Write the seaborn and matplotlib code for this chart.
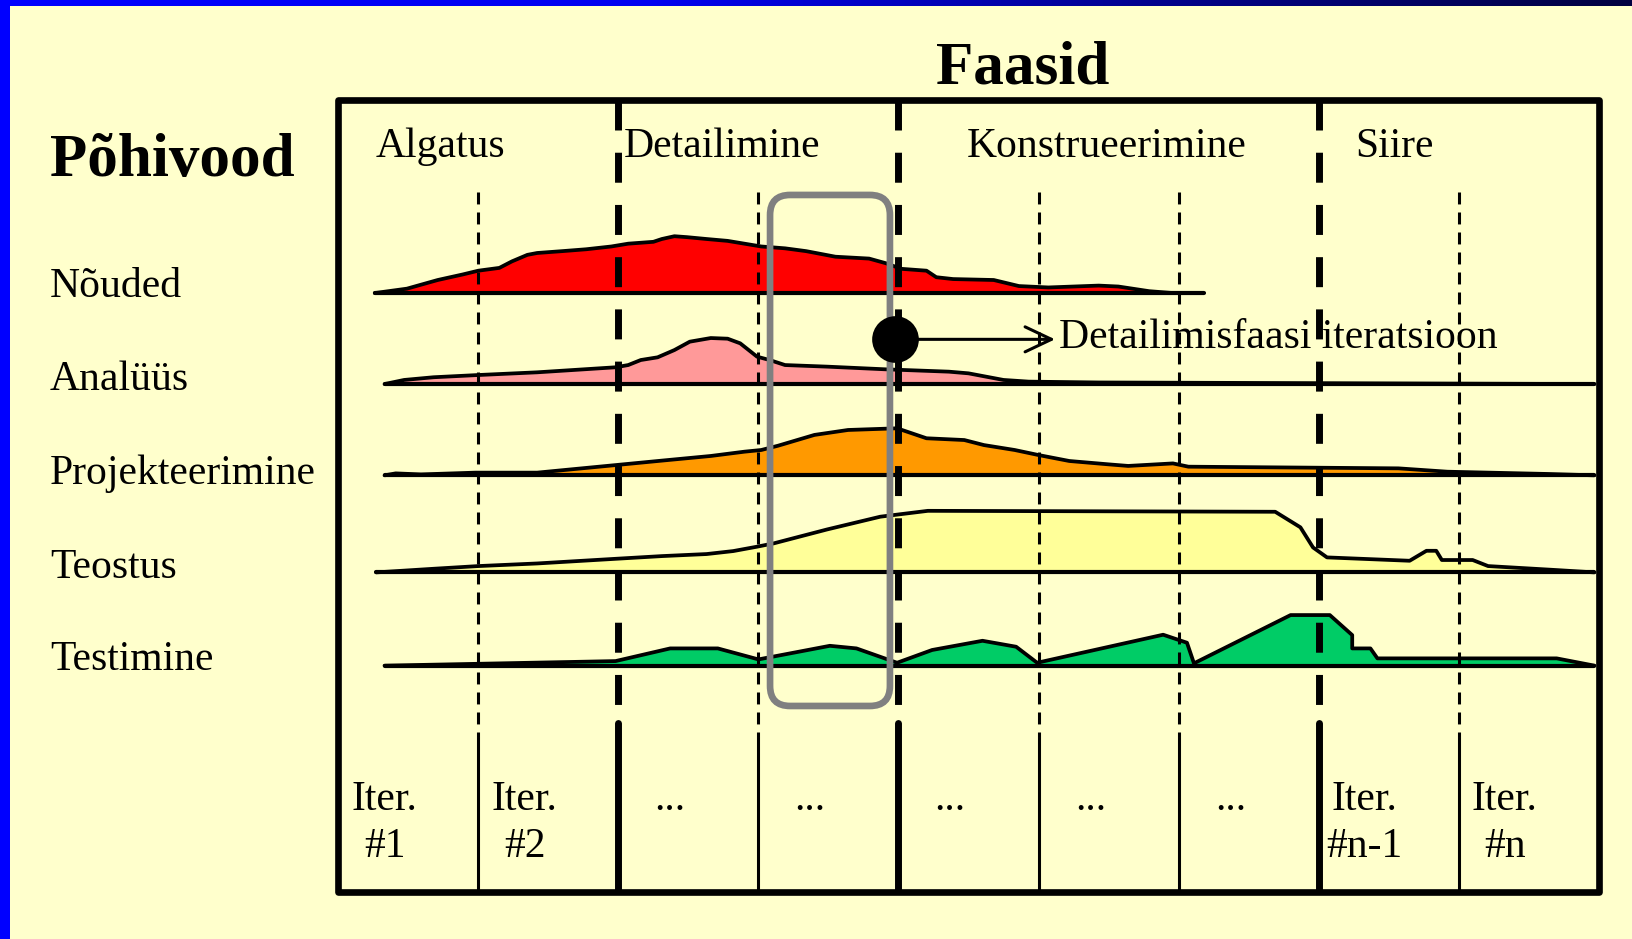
import matplotlib
matplotlib.use("Agg")
import matplotlib.pyplot as plt
import seaborn as sns
import numpy as np
from matplotlib.patches import FancyBboxPatch, Rectangle
from matplotlib.colors import LinearSegmentedColormap

# ---------------------------------------------------------------------------
# data: time in iteration units (box = 0..9), effort in % of one lane height
# ---------------------------------------------------------------------------
phases = ["Algatus", "Detailimine", "Konstrueerimine", "Siire"]
phase_pos = [0.726, 2.742, 5.485, 7.543]
phase_bounds = [2, 4, 7]
iter_bounds = [1, 3, 5, 6, 8]
iter_top = ["Iter.", "Iter.", "...", "...", "...", "...", "...", "Iter.", "Iter."]
iter_bottom = ["#1", "#2", "", "", "", "", "", "#n-1", "#n"]

disciplines = ["Nõuded", "Analüüs", "Projekteerimine", "Teostus", "Testimine"]
lane_base = [6.430, 5.453, 4.473, 3.431, 2.430]
base_start = [0.26, 0.33, 0.33, 0.27, 0.33]
base_end = [6.18, 8.97, 8.97, 8.97, 8.97]
colors = ["#FF0000", "#FF9999", "#FF9900", "#FFFF99", "#00CC66"]

noud_t = [0.26, 0.49, 0.71, 0.89, 1.00, 1.15, 1.24, 1.35, 1.42, 1.60, 1.77, 1.95, 2.07,
          2.25, 2.31, 2.40, 2.49, 2.63, 2.78, 2.90, 3.02, 3.19, 3.34, 3.55, 3.79, 3.91,
          4.02, 4.20, 4.27, 4.39, 4.68, 4.86, 5.07, 5.43, 5.57, 5.79, 5.96]
noud_e = [0, 4.7, 14, 20, 24, 27, 34, 41, 43, 45, 47, 50, 53, 55, 58, 61, 60, 58, 56, 53,
          50, 48, 45, 39, 37, 32, 26, 24, 17, 15, 14, 7.5, 6, 8, 7, 2, 0]

anal_t = [0.33, 0.47, 0.68, 1.00, 1.42, 1.98, 2.07, 2.16, 2.28, 2.40, 2.51, 2.66, 2.78,
          2.87, 2.99, 3.08, 3.19, 3.49, 3.91, 4.36, 4.50, 4.75, 4.93, 5.43, 8.97]
anal_e = [0, 4.4, 7.3, 9.7, 12.6, 18, 20.4, 25.8, 28.7, 36.5, 45.5, 49.4, 48.7, 43.7,
          29.4, 25.8, 20.4, 18.7, 15.8, 13.3, 11.5, 4.4, 2.6, 1.7, 0]

proj_t = [0.33, 0.41, 0.59, 0.98, 1.42, 1.98, 2.31, 2.66, 2.90, 3.02, 3.14, 3.40, 3.64,
          3.99, 4.20, 4.47, 4.61, 4.83, 5.00, 5.22, 5.50, 5.64, 5.96, 6.07, 7.57, 7.92,
          8.63, 8.97]
proj_e = [0, 2.1, 1.0, 2.9, 2.9, 11, 15.8, 20.8, 25.4, 27.2, 31.8, 43.4, 48.7, 50.5,
          39.8, 37.9, 32.5, 27.2, 21.8, 15.4, 11.8, 10.1, 12.8, 9.3, 7.5, 3.9, 1.5, 0]

teos_t = [0.27, 0.68, 1.00, 1.42, 1.98, 2.31, 2.63, 2.82, 2.99, 3.11, 3.49, 3.87, 4.21,
          6.69, 6.87, 6.96, 7.06, 7.65, 7.77, 7.84, 7.88, 8.10, 8.21, 8.70, 8.97]
teos_e = [0, 3.9, 6.8, 9.6, 14.6, 17.5, 19.7, 22.9, 27.6, 31.2, 46.1, 59.8, 66.1, 65.1,
          48.4, 26.8, 16.1, 12.5, 23.2, 23.2, 13.3, 13.3, 6.8, 2.5, 0]

test_t = [0.33, 1.98, 2.37, 2.71, 3.00, 3.51, 3.70, 3.99, 4.24, 4.60, 4.84, 4.99, 5.89,
          6.06, 6.11, 6.80, 7.08, 7.24, 7.24, 7.37, 7.42, 8.70, 8.97]
test_e = [0, 4.9, 18.5, 18.5, 6.7, 21.3, 18.5, 3.1, 16.8, 26.7, 20.3, 3.1, 33.2, 24.6,
          2.5, 54.3, 54.3, 32.8, 18.5, 18.5, 7.8, 7.8, 0]

profiles = [(noud_t, noud_e), (anal_t, anal_e), (proj_t, proj_e),
            (teos_t, teos_e), (test_t, test_e)]

# highlighted iteration (gray box) and the marker pointing to it
hl_x, hl_w, hl_y, hl_h = 3.083, 0.856, 1.997, 5.486
dot_x, dot_y = 3.975, 5.933
arrow_end = 5.118
arrow_text = "Detailimisfaasi iteratsioon"

################################################################################

sns.set_style("white")
plt.rcParams['font.family'] = ['Liberation Serif', 'DejaVu Serif']
plt.rcParams['text.color'] = 'black'
plt.rcParams['lines.scale_dashes'] = False

BG = "#FFFFCC"
W, H = 1632, 939
fig = plt.figure(figsize=(W / 100, H / 100), dpi=100, facecolor=BG)

# blue slide border
cmap = LinearSegmentedColormap.from_list(
    "bar", [(0, "#0000FF"), (0.4, "#0000F0"), (0.7, "#000090"), (1, "#000040")])
ax_bar = fig.add_axes([0, 1 - 6 / H, 1, 6 / H])
ax_bar.imshow(np.linspace(0, 1, 256)[None, :], aspect="auto", cmap=cmap)
ax_bar.axis("off")
fig.add_artist(Rectangle((0, 0), 10 / W, 1, transform=fig.transFigure,
                         color="#0000FF", lw=0))

# main box
L, R, T, B = 338.3, 1598.7, 99.7, 892
ax = fig.add_axes([L / W, 1 - B / H, (R - L) / W, (B - T) / H])
ax.set_xlim(0, 9)
ax.set_ylim(0, (B - T) / 93.15)
ax.set_axis_off()
ytop = (B - T) / 93.15
ax.add_patch(Rectangle((0, 0), 1, 1, transform=ax.transAxes, fill=False,
                       ec="black", lw=4.8, joinstyle="round", clip_on=False, zorder=10))

# effort humps
for (t, e), base, c, x0, x1 in zip(profiles, lane_base, colors, base_start, base_end):
    y = base + np.array(e) / 100
    ax.fill_between(t, base, y, color=c, lw=0, zorder=1)
    sns.lineplot(x=t, y=y, ax=ax, color="black", lw=2.7, sort=False,
                 estimator=None, zorder=2)
    ax.plot([x0, x1], [base, base], color="black", lw=3, solid_capstyle="round", zorder=2)

# highlighted iteration
ax.add_patch(FancyBboxPatch((hl_x, hl_y), hl_w, hl_h,
                            boxstyle="round,pad=0,rounding_size=0.143",
                            mutation_aspect=1.503, fc="none", ec="#808080",
                            lw=4.8, zorder=3))

# phase / iteration separators
y_phase_solid = 1.813
y_iter_top, y_iter_solid = 7.51, 1.665
for x in phase_bounds:
    ax.plot([x, x], [ytop, y_phase_solid], color="black", lw=5,
            dashes=(21.6, 16), dash_capstyle="butt", zorder=4)
    ax.plot([x, x], [y_phase_solid, 0], color="black", lw=5, zorder=4)
for x in iter_bounds:
    ax.plot([x, x], [y_iter_top, y_iter_solid], color="black", lw=2.2,
            dashes=(8.6, 5.8), dash_capstyle="butt", zorder=4)
    ax.plot([x, x], [y_iter_solid, 0], color="black", lw=2.2, zorder=4)

# marker + arrow
ax.scatter([dot_x], [dot_y], s=1130, color="black", zorder=6, lw=0)
ax.annotate("", xy=(arrow_end, dot_y), xytext=(dot_x, dot_y),
            arrowprops=dict(arrowstyle="->,head_length=0.95,head_width=0.45",
                            mutation_scale=20, color="black", lw=2.2,
                            shrinkA=0, shrinkB=0), zorder=5)
ax.text(arrow_end + 0.03, 5.844, arrow_text, fontsize=30, va="baseline",
        ha="left", zorder=6)

# phase names
for name, x in zip(phases, phase_pos):
    ax.text(x, 7.887, name, fontsize=30, ha="center", va="baseline")

# iteration labels
for i, (a, b) in enumerate(zip(iter_top, iter_bottom)):
    if a == "...":
        ax.text(i + 0.37, 0.883, a, fontsize=30, ha="center", va="baseline")
    else:
        ax.text(i + 0.33, 0.883, a, fontsize=30, ha="center", va="baseline")
        ax.text(i + 0.33, 0.380, b, fontsize=30, ha="center", va="baseline")

# titles and discipline labels
fig.text(1023 / W, 1 - 84 / H, "Faasid", fontsize=44, fontweight="bold",
         ha="center", va="baseline")
fig.text(50 / W, 1 - 176 / H, "Põhivood", fontsize=44, fontweight="bold",
         ha="left", va="baseline")
label_y = [296.6, 390.3, 484, 577.6, 670.3]
for name, yy in zip(disciplines, label_y):
    fig.text(50 / W, 1 - yy / H, name, fontsize=30, ha="left", va="baseline")

fig.savefig("out.png", dpi=100, facecolor=BG)
